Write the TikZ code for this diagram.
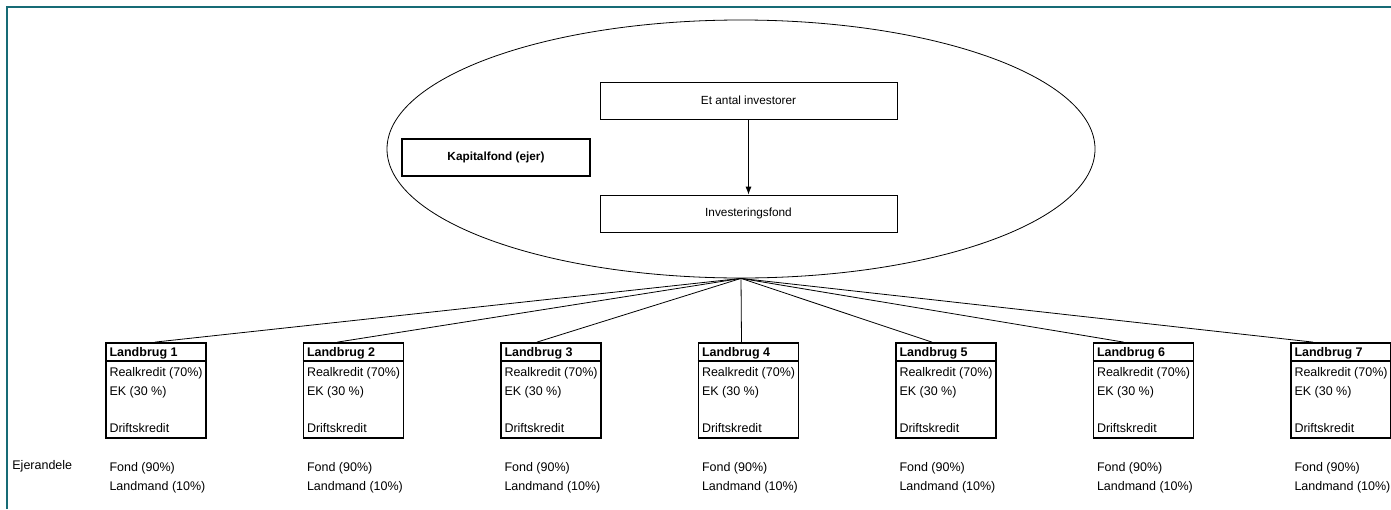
\documentclass[tikz,border=0pt]{standalone}
\usepackage{fontspec}
\setmainfont{Liberation Sans}
\usetikzlibrary{shapes.geometric,positioning,calc,arrows.meta}
\definecolor{frameteal}{RGB}{23,107,117}

\begin{document}
\begin{tikzpicture}
        [x=1pt,y=-1pt,>={Latex[length=8pt,width=6pt]},line width=0.8pt,
        box/.style={draw,minimum width=297,minimum height=37,inner sep=0,font=\fontsize{11.8}{14}\selectfont},
        farm/.style={draw,line width=1.8pt,minimum width=100,minimum height=95,inner sep=0},
        txt/.style={align=left,inner sep=0,font=\fontsize{12.5}{18.5}\selectfont}]

        \useasboundingbox (0,0) rectangle (1391,509);
        \draw[frameteal,line width=2] (7,509) -- (7,7) -- (1391,7);

        % the fund
        \node[draw,ellipse,minimum width=708,minimum height=258,inner sep=0] (fund) at (741,149) {};
        \node[box] (inv) at (748.5,100.5) {Et antal investorer};
        \node[box] (ifond) at (748.5,213.5) {Investeringsfond};
        \node[box,line width=1.8pt,minimum width=188,font=\fontsize{11.8}{14}\selectfont\bfseries] (kap) at (496,157.5) {Kapitalfond (ejer)};
        \draw[->] (inv) -- (ifond);

        \node[txt,anchor=west] (ejer) at (12,466) {Ejerandele};

        % the farms
        \foreach \i/\dx in {1/-1,2/-16,3/-14,4/-7,5/-14,6/-20,7/-28}{
            \node[farm] (lb\i) at ({156+(\i-1)*197.5},390.5) {};
            \draw[line width=1.4pt] ($(lb\i.north west)+(0,19)$) -- ($(lb\i.north east)+(0,19)$);
            \node[txt,font=\fontsize{12.5}{15}\selectfont\bfseries,anchor=base west] (head\i) at ($(lb\i.north west)+(4,14.5)$) {Landbrug \i};
            \node[txt,anchor=north west] (loan\i) at ($(lb\i.north west)+(4,25)$) {Realkredit (70\%)\\EK (30 \%)\\[18.5pt]Driftskredit};
            \node[txt,anchor=north west] (own\i) at ($(lb\i.south west)+(4,23.5)$) {Fond (90\%)\\Landmand (10\%)};
            \draw (fund.south) -- ($(lb\i.north)+(\dx,0)$);
        }

\end{tikzpicture}
\end{document}
